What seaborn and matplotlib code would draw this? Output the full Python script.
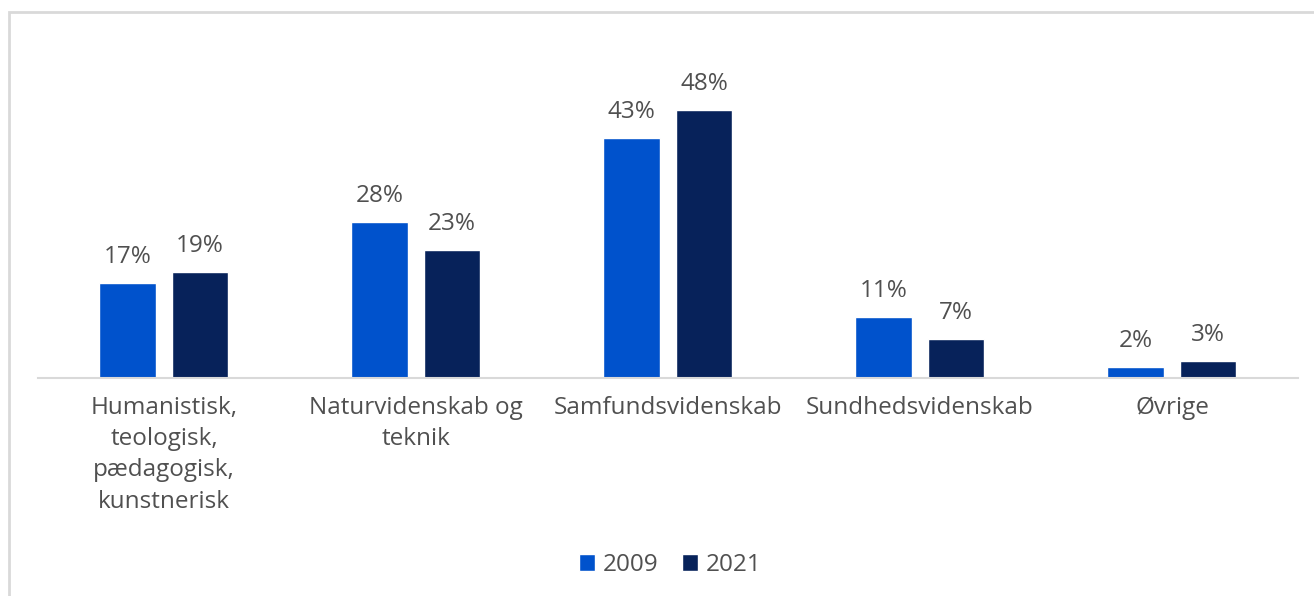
import numpy as np
import pandas as pd
import matplotlib
matplotlib.use("Agg")
import matplotlib.pyplot as plt
import seaborn as sns
from matplotlib.patches import Rectangle

categories = ["Humanistisk,\nteologisk,\npædagogisk,\nkunstnerisk",
              "Naturvidenskab og\nteknik",
              "Samfundsvidenskab",
              "Sundhedsvidenskab",
              "Øvrige"]
years = ["2009", "2021"]
values_2009 = [17, 28, 43, 11, 2]
values_2021 = [19, 23, 48, 7, 3]

df = pd.DataFrame({
    "category": categories * 2,
    "year": [years[0]] * len(categories) + [years[1]] * len(categories),
    "value": values_2009 + values_2021,
})

sns.set_style("white")
plt.rcParams["font.family"] = ["Open Sans", "DejaVu Sans"]

text_color = "#505050"
colors = {"2009": "#0052CC", "2021": "#07225A"}
fs = 17.5

fig = plt.figure(figsize=(13.14, 5.96), dpi=100)
ax = fig.add_axes([0.0289, 0.3658, 0.9589, 0.5621])

sns.barplot(data=df, x="category", y="value", hue="year", palette=colors,
            saturation=1, width=0.572, gap=0.21, ax=ax, legend=True)

for cont in ax.containers:
    ax.bar_label(cont, labels=[f"{v:.0f}%" for v in cont.datavalues],
                 padding=10, fontsize=fs, color=text_color)

ax.set_ylim(0, 60)
ax.set_xlim(-0.5, len(categories) - 0.5)
ax.set_xlabel("")
ax.set_ylabel("")
ax.set_yticks([])
ax.tick_params(axis="x", length=0, pad=13, labelsize=fs, labelcolor=text_color)
for lab in ax.get_xticklabels():
    lab.set_linespacing(1.4)
    lab.set_verticalalignment("top")
for s in ["top", "right", "left"]:
    ax.spines[s].set_visible(False)
ax.spines["bottom"].set_color("#D9D9D9")
ax.spines["bottom"].set_linewidth(1.5)

handles, labels = ax.get_legend_handles_labels()
ax.legend_.remove()
fig.legend(handles, labels, loc="center", bbox_to_anchor=(0.51, 0.052),
           ncol=2, frameon=False, fontsize=fs, labelcolor=text_color,
           handlelength=0.65, handleheight=0.65, handletextpad=0.3,
           columnspacing=1.0)

# outer frame
fig.patches.append(Rectangle((9 / 1314, -0.1), 1.2, 1 - 12 / 596 + 0.1,
                             transform=fig.transFigure, fill=False,
                             edgecolor="#D9D9D9", linewidth=2))

fig.savefig("out.png", dpi=100)
